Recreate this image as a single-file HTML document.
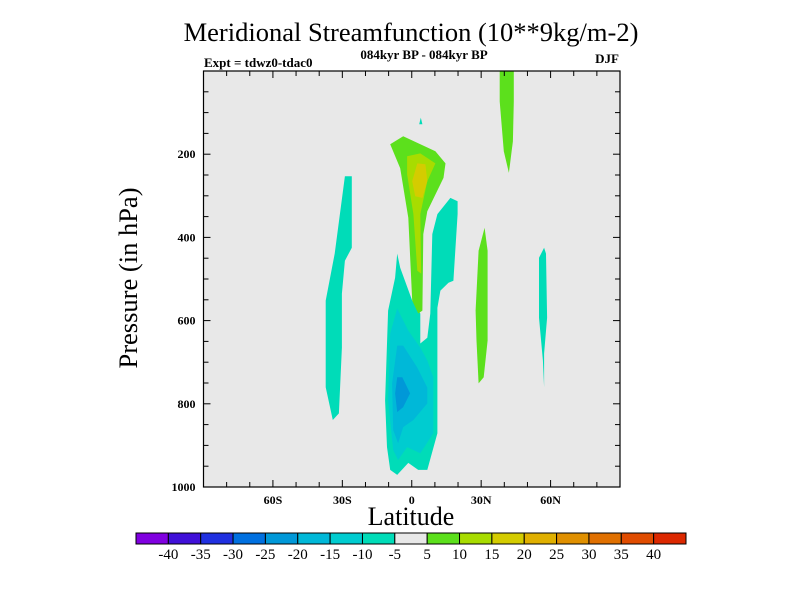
<!DOCTYPE html>
<html><head><meta charset="utf-8"><style>
html,body{margin:0;padding:0;background:#fff;}
svg{display:block;font-family:"Liberation Serif",serif;}
</style></head><body>
<svg id="chart" width="800" height="600" viewBox="0 0 800 600">
<text x="411" y="41" font-size="26.5" text-anchor="middle">Meridional Streamfunction (10**9kg/m-2)</text>
<text x="424" y="59" font-size="13" font-weight="bold" text-anchor="middle">084kyr BP - 084kyr BP</text>
<text x="204" y="67" font-size="13" font-weight="bold">Expt = tdwz0-tdac0</text>
<text x="619" y="63" font-size="13" font-weight="bold" text-anchor="end">DJF</text>
<text transform="translate(137,278) rotate(-90)" font-size="26.5" text-anchor="middle">Pressure (in hPa)</text>
<text x="411" y="525" font-size="26" text-anchor="middle">Latitude</text>
<g id="plot"></g>
<g id="cbar"></g>
</svg>
<script>
const colorLevels = [-40,-35,-30,-25,-20,-15,-10,-5,5,10,15,20,25,30,35,40];
const colorLabels = ["-40","-35","-30","-25","-20","-15","-10","-5","5","10","15","20","25","30","35","40"];
const colorFills = ["#8000e0","#4010d8","#2030e0","#0070e0","#0098d8","#00b8d8","#00ccd0","#00dcb8","#e8e8e8","#5ce01c","#a8dc00","#d4cc00","#e0b000","#e09000","#e07000","#e04c00","#dc2800"];
const xTickVals = [-60,-30,0,30,60];
const xTickLabels = ["60S","30S","0","30N","60N"];
const yTickVals = [200,400,600,800,1000];
const yTickLabels = ["200","400","600","800","1000"];
// contour regions: [lat, pressure] points, with level index into colorFills
const regionLevels = [7,7,7,6,5,4,9,10,11,9,9,7,7];
const regionNames = ["sh-30s-band","tropics-negative","speck-negative","tropics-neg-15","tropics-neg-20","tropics-neg-25","upper-positive-5","upper-positive-10","upper-positive-15","nh-40n-band","nh-30n-band","nh-57n-band","speck-top"];
const regionPoints = [
 [[-28.9,253],[-25.9,253],[-25.9,425],[-28.9,456],[-30.2,535],[-30.2,665],[-31.5,823],[-34.1,839],[-37.2,760],[-37.2,552],[-33.3,439]],
 [[16.7,305],[19.8,313],[19.8,344],[18,504],[15.9,509],[12.4,528],[11.1,569],[11.1,655],[11.1,871],[6.7,959],[2.8,959],[-1.5,942],[-6.3,971],[-9.3,959],[-10.7,904],[-11.5,792],[-10.2,576],[-7.2,497],[-6.3,439],[-5.0,473],[0.2,552],[3.7,583],[3.7,655],[6.7,641],[8.0,583],[8.9,392],[11.1,344]],
 [[3.2,128],[4.6,128],[3.9,112]],
 [[-6.3,571],[-1.5,624],[3.7,665],[6.7,696],[9.3,736],[9.3,871],[3.7,919],[-2.0,904],[-5.9,935],[-8.0,911],[-10.2,792],[-9.3,631]],
 [[-6.3,660],[-3.7,660],[2.4,713],[6.7,761],[6.7,799],[0.7,839],[-3.7,856],[-5.9,895],[-8.0,863],[-8.5,751]],
 [[-6.3,736],[-4.1,736],[-0.7,775],[-3.7,808],[-6.3,820],[-7.2,775]],
 [[-9.3,176],[-3.7,157],[10.2,193],[14.6,222],[13.7,257],[6.7,337],[5.0,392],[4.6,576],[2.8,583],[0.2,552],[-1.5,353],[-5.0,234]],
 [[-2.0,205],[3.7,198],[10.2,222],[6.7,265],[3.7,344],[4.1,487],[2.4,480],[0.7,344],[-2.0,248]],
 [[2.4,222],[5.9,224],[6.7,265],[4.6,305],[1.5,301],[0.2,265]],
 [[38,0],[44.1,0],[44.1,73],[43.7,169],[42,245],[39.8,193],[38,73]],
 [[31.5,377],[32.8,432],[32.8,648],[31.1,736],[28.9,751],[28,648],[27.6,576],[28.9,432]],
 [[57.2,425],[58,439],[58.5,593],[57.2,679],[57.2,760],[56.7,696],[55,593],[55,449]],
 [[3.2,128],[3.2,128],[3.2,128]]
];
const NS='http://www.w3.org/2000/svg';
const L=203.5,R=620,T=71,B=487;
function xs(lat){return L+(lat+90)/180*(R-L);}
function ys(p){return T+p/1000*(B-T);}
function mk(tag,attrs,parent){const e=document.createElementNS(NS,tag);for(const k in attrs)e.setAttribute(k,attrs[k]);parent.appendChild(e);return e;}
const plot=document.getElementById('plot');
const bg=mk('rect',{x:L,y:T,width:R-L,height:B-T,fill:'#e8e8e8'},plot);


regionPoints.forEach((pts,i)=>{
  const pg=mk('polygon',{points:pts.map(q=>xs(q[0]).toFixed(1)+','+ys(q[1]).toFixed(1)).join(' '),fill:colorFills[regionLevels[i]]},plot);
  
  
});
const fr=mk('rect',{x:L,y:T,width:R-L,height:B-T,fill:'none',stroke:'#000','stroke-width':1.2},plot);


for(let lat=-80;lat<=80;lat+=10){
  const len=(lat%30===0)?7:5;const x=xs(lat);
  mk('line',{x1:x,y1:B,x2:x,y2:B-len,stroke:'#000'},plot);
  mk('line',{x1:x,y1:T,x2:x,y2:T+len,stroke:'#000'},plot);
}
for(let p=50;p<1000;p+=50){
  const len=(p%200===0)?7:5;const y=ys(p);
  mk('line',{x1:L,y1:y,x2:L+len,y2:y,stroke:'#000'},plot);
  mk('line',{x1:R,y1:y,x2:R-len,y2:y,stroke:'#000'},plot);
}
xTickVals.forEach((v,i)=>{
  const t=mk('text',{x:xs(v),y:B+17,'font-size':12,'font-weight':'bold','text-anchor':'middle'},plot);
  t.textContent=xTickLabels[i];
  
  
});
yTickVals.forEach((v,i)=>{
  const t=mk('text',{x:L-8,y:ys(v)+4,'font-size':12,'font-weight':'bold','text-anchor':'end'},plot);
  t.textContent=yTickLabels[i];
  
  
});
const cb=document.getElementById('cbar');
const cx0=136,cx1=686,cy=533,ch=11,n=colorFills.length,bw=(cx1-cx0)/n;
colorFills.forEach((c,i)=>{
  const r=mk('rect',{x:cx0+i*bw,y:cy,width:bw,height:ch,fill:c,stroke:'#000','stroke-width':1},cb);
  
  
});
colorLevels.forEach((v,i)=>{
  const t=mk('text',{x:cx0+(i+1)*bw,y:cy+26,'font-size':15,'text-anchor':'middle'},cb);
  t.textContent=colorLabels[i];
  
  
});
</script>
</body></html>
